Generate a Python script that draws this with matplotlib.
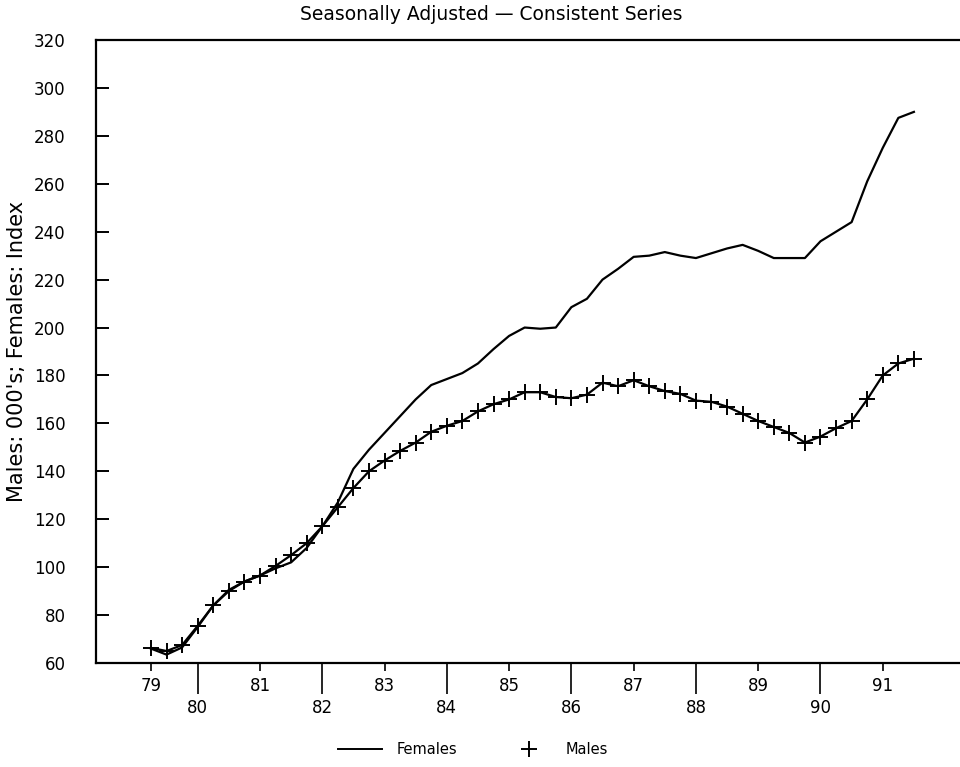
import numpy as np
import matplotlib
matplotlib.use("Agg")
import matplotlib.pyplot as plt
from matplotlib.lines import Line2D

# quarterly data, first point is the "79" tick
males = [66.3, 65, 67.5, 75.5, 84, 90, 94, 96.5, 100.5, 105,
         110, 117, 125, 133, 140, 144.5, 148.5, 152, 156.5, 159,
         161, 165, 168, 170, 173, 173, 171, 170.5, 172, 177,
         175.5, 178, 175.5, 173.5, 172.3, 169.5, 169, 167, 164, 161,
         158.5, 156, 152, 154.5, 158, 161, 170, 180, 185, 187]
females = [66, 63.5, 66.5, 75, 84, 90.5, 94, 96.5, 99.5, 102,
           108, 117, 127, 141, 149, 156, 163, 170, 176, 178.5,
           181, 185, 191, 196.5, 200, 199.5, 200, 208.5, 212, 220,
           224.5, 229.5, 230, 231.5, 230, 229, 231, 233, 234.5, 232,
           229, 229, 229, 236, 240, 244, 261, 275, 287.5, 290]
odd_years = ["79", "81", "83", "85", "87", "89", "91"]
odd_pos = [0, 7, 15, 23, 31, 39, 47]
even_years = ["80", "82", "84", "86", "88", "90"]
even_pos = [3, 11, 19, 27, 35, 43]
y_ticks = list(range(60, 321, 20))

x = np.arange(len(males))

fig = plt.figure(figsize=(9.6, 7.67), dpi=100)
ax = fig.add_axes([0.1, 1 - 663 / 767, 0.9, (663 - 40) / 767])

ax.plot(x, females, color="black", lw=1.6)
ax.plot(x, males, color="black", lw=1.6, marker="+", ms=11, mew=1.4)

ax.set_xlim(-3.53, 51.96)
ax.set_ylim(60, 320)
ax.spines["right"].set_visible(False)
for s in ["left", "top", "bottom"]:
    ax.spines[s].set_linewidth(1.6)

ax.set_yticks(y_ticks)
ax.tick_params(axis="y", direction="in", length=9, width=1.4, pad=22, labelsize=12)

ax.set_xticks(odd_pos, labels=odd_years)
ax.set_xticks(even_pos, labels=even_years, minor=True)
ax.tick_params(axis="x", which="major", direction="out", length=6, width=1.2, pad=4, labelsize=12)
ax.tick_params(axis="x", which="minor", direction="out", length=22, width=1.2, pad=4, labelsize=12)

ax.set_ylabel("Males: 000's; Females: Index", fontsize=15)
ax.yaxis.set_label_coords((27 - 96) / 864, 0.5)

fig.text(491 / 960, 1 - 14 / 767, "Seasonally Adjusted \u2014 Consistent Series",
         ha="center", va="center", fontsize=13.5)

handles = [Line2D([], [], color="black", lw=1.4),
           Line2D([], [], color="black", ls="none", marker="+", ms=11, mew=1.4)]
fig.legend(handles, ["Females", "Males"], ncol=2, frameon=False, loc="center",
           bbox_to_anchor=(473 / 960, 1 - 750 / 767), fontsize=10.5,
           handlelength=3, columnspacing=3.4, handletextpad=1)

fig.savefig("out.png", dpi=100)
